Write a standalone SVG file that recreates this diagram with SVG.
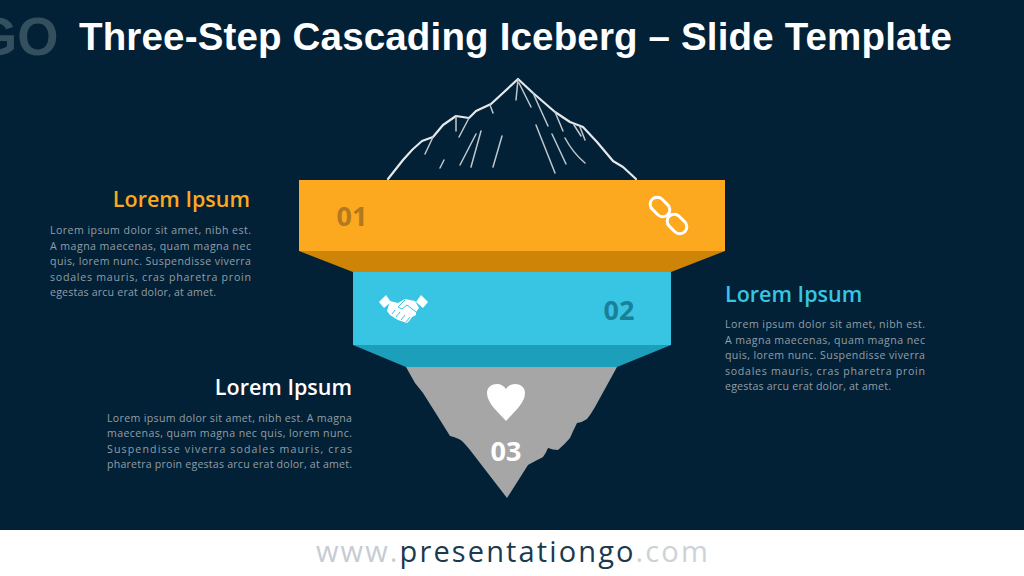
<svg xmlns="http://www.w3.org/2000/svg" width="1024" height="576" viewBox="0 0 1024 576">
<style>
.bg{fill:#022136}
.body{font-family:"Open Sans","Noto Sans","Liberation Sans",sans-serif;font-size:10.6px;fill:#939ea6}
.head{font-family:"Open Sans","Noto Sans","Liberation Sans",sans-serif;font-size:21.5px;font-weight:600}
.num{font-family:"Open Sans","Noto Sans","Liberation Sans",sans-serif;font-size:27px;font-weight:700}
.line{fill:none;stroke:#e6e8ea;stroke-linecap:round;stroke-linejoin:round}
.thin{stroke-width:1.5;stroke:#c0c7cc}
.foot{font-family:"Open Sans","Noto Sans","Liberation Sans",sans-serif;font-size:29px;letter-spacing:2.2px}
</style>
<rect class="bg" width="1024" height="530"/>
<rect y="530" width="1024" height="46" fill="#ffffff"/>
<text id="logo" x="-24" y="55" font-family="Liberation Sans, Arial, sans-serif" font-weight="700" font-size="53" fill="#34505f">GO</text>
<text id="title" x="79" y="50" font-family="Liberation Sans, Arial, sans-serif" font-weight="700" font-size="38.500" fill="#ffffff" textLength="873" lengthAdjust="spacing">Three-Step Cascading Iceberg – Slide Template</text>

<g id="mountain">
<path class="line" stroke-width="2.200" d="M388,179L403,160Q412,149 422,141L433,137L443,125L456,116L469,118L476,111L491,104L518,79L533,93L555,112L570,122L583,127L597,142L613,161L623,167L636,179"/>
<path class="line thin" d="M518,79L516,100M519,83L531,107M533,93L548,126M555,112L563,131M574,125L581,136M580,127L585,140M536,125L555,173M552,134L566,164M565,138Q573,153 585,163M502,136L493,167M481,131L471,167M476,134L460,165M444,160L440,168M469,118L459,137M456,116L456,131M433,137L425,154M490,105L493,113"/>
</g>

<g id="iceberg">
<path fill="#a6a6a6" d="M406,367L415,383Q419,388 423,393L435,412L450,436Q458,438 462,441Q466,445 470,450L507,498L528,465Q537,460 543,457Q546,453 548,448Q553,450 558,450Q565,444 570,438Q573,431 577,423Q583,422 587,419Q591,414 595,407L617,367Z"/>
<path fill="#ffffff" d="M506,421C498,412 487,403 487,393C487,387 492,384 497,384C501,384 504,386 506,389C508,386 511,384 515,384C520,384 525,387 525,393C525,403 514,412 506,421Z"/>
<text class="num" x="506" y="461" text-anchor="middle" fill="#ffffff">03</text>
</g>

<g id="step2">
<path fill="#1c9fbb" d="M353,345H671L617,367H406Z"/>
<rect x="353" y="272" width="318" height="73" fill="#38c5e3"/>
<text class="num" x="619" y="320" text-anchor="middle" fill="#1a7f98">02</text>
<g fill="#ffffff">
<path d="M379,302L386,295L391,302L384,308Z"/>
<path d="M428,302L421,295L416,302L423,308Z"/>
<path d="M390,301L398,303L405,299L415,301L419,308L416,312L416,315L412,317L410,320L407,323L398,320L390,315L387,311Z"/>
</g>
<path fill="none" stroke="#38c5e3" stroke-width="1" d="M405,300L398,307L402,309L407,305L416,312M392,314L395,310M396,317L400,312M401,320L405,315M406,322L410,317"/>
</g>

<g id="step1">
<path fill="#ce8507" d="M299,251H725L671,272H353Z"/>
<rect x="299" y="180" width="426" height="71" fill="#fca91f"/>
<text class="num" x="352" y="226" text-anchor="middle" fill="#b27a20">01</text>
<g fill="none" stroke="#ffffff" stroke-width="3">
<rect x="649" y="200" width="22" height="14" rx="7" transform="rotate(45 660 207)"/>
<rect x="666" y="217" width="22" height="14" rx="7" transform="rotate(45 677 224)"/>
</g>
</g>

<g id="text1">
<text class="head" x="250" y="207" text-anchor="end" fill="#fca91f">Lorem Ipsum</text>
<text class="body" x="50" y="234" textLength="201" lengthAdjust="spacing">Lorem ipsum dolor sit amet, nibh est.</text>
<text class="body" x="50" y="249.500" textLength="201" lengthAdjust="spacing">A magna maecenas, quam magna nec</text>
<text class="body" x="50" y="265" textLength="201" lengthAdjust="spacing">quis, lorem nunc. Suspendisse viverra</text>
<text class="body" x="50" y="280.500" textLength="201" lengthAdjust="spacing">sodales mauris, cras pharetra proin</text>
<text class="body" x="50" y="296" textLength="166" lengthAdjust="spacing">egestas arcu erat dolor, at amet.</text>
</g>

<g id="text2">
<text class="head" x="725" y="302" fill="#38c5e3">Lorem Ipsum</text>
<text class="body" x="725" y="328" textLength="200" lengthAdjust="spacing">Lorem ipsum dolor sit amet, nibh est.</text>
<text class="body" x="725" y="343.500" textLength="200" lengthAdjust="spacing">A magna maecenas, quam magna nec</text>
<text class="body" x="725" y="359" textLength="200" lengthAdjust="spacing">quis, lorem nunc. Suspendisse viverra</text>
<text class="body" x="725" y="374.500" textLength="200" lengthAdjust="spacing">sodales mauris, cras pharetra proin</text>
<text class="body" x="725" y="390" textLength="166" lengthAdjust="spacing">egestas arcu erat dolor, at amet.</text>
</g>

<g id="text3">
<text class="head" x="352" y="395" text-anchor="end" fill="#ffffff">Lorem Ipsum</text>
<text class="body" x="107" y="422" textLength="245" lengthAdjust="spacing">Lorem ipsum dolor sit amet, nibh est. A magna</text>
<text class="body" x="107" y="437" textLength="245" lengthAdjust="spacing">maecenas, quam magna nec quis, lorem nunc.</text>
<text class="body" x="107" y="453" textLength="245" lengthAdjust="spacing">Suspendisse viverra sodales mauris, cras</text>
<text class="body" x="107" y="468" textLength="245" lengthAdjust="spacing">pharetra proin egestas arcu erat dolor, at amet.</text>
</g>

<text id="footer" class="foot" x="316" y="562" textLength="394" lengthAdjust="spacing"><tspan fill="#c6ccd2">www.</tspan><tspan fill="#1b3a4e">presentationgo</tspan><tspan fill="#ccd2d7">.com</tspan></text>
</svg>
